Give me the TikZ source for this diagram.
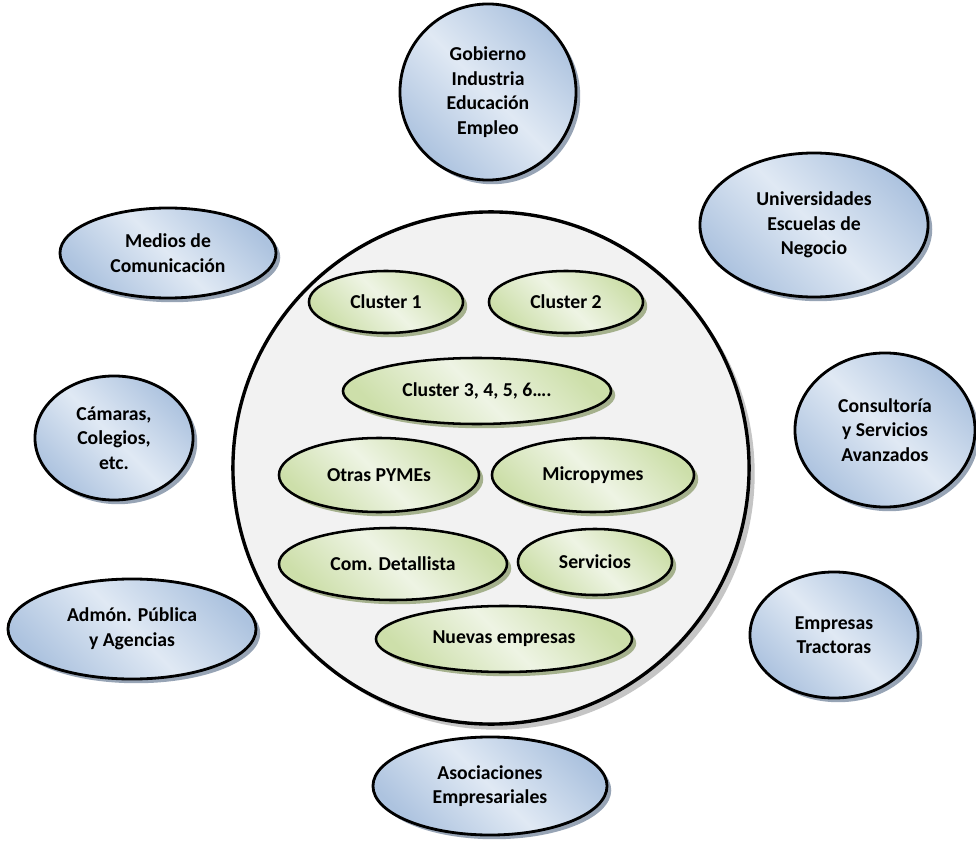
\documentclass[tikz,border=0pt]{standalone}
\usepackage{fontspec}
\setmainfont{Carlito}
\usetikzlibrary{shapes.geometric,shadows}
\definecolor{bluedark}{HTML}{ADC3DF}
\definecolor{bluelight}{HTML}{E0E9F4}
\definecolor{blueshadow}{HTML}{7D8DA3}
\definecolor{greendark}{HTML}{CDDFAA}
\definecolor{greenlight}{HTML}{EEF4E4}
\definecolor{greenshadow}{HTML}{9DAA83}
\definecolor{circlefill}{HTML}{F2F2F2}
\tikzset{esize/.style 2 args={minimum width=#1*0.05cm, minimum height=#2*0.05cm}}
\tikzstyle{actor} = [ellipse, draw, line width=2pt, inner sep=0pt, align=center,
  left color=bluedark, right color=bluedark, middle color=bluelight, shading angle=-45,
  drop shadow={shadow xshift=3pt, shadow yshift=-3pt, fill=blueshadow, opacity=0.8}]
\tikzstyle{group} = [ellipse, draw, line width=1.8pt, inner sep=0pt, align=center,
  left color=greendark, right color=greendark, middle color=greenlight, shading angle=-45,
  drop shadow={shadow xshift=3pt, shadow yshift=-3pt, fill=greenshadow, opacity=0.9}]
\tikzstyle{core} = [ellipse, draw, line width=2.4pt, fill=circlefill,
  drop shadow={shadow xshift=4pt, shadow yshift=-4pt, fill=black!25, opacity=0.9}]

\begin{document}
\begin{tikzpicture}[x=0.025cm, y=-0.025cm, font=\fontsize{14}{17.5}\selectfont\bfseries]

\useasboundingbox (0,0) rectangle (976,841);

% central circle
\node[core, esize={258}{256}] (core) at (491,468) {};

\node[group, esize={77}{31}] (cl1) at (386,302) {Cluster 1};
\node[group, esize={77}{31}] (cl2) at (566,302) {Cluster 2};
\node[group, esize={134}{33}] (cl3) at (477,391) {Cluster 3, 4, 5, 6….};
\node[group, esize={100}{37}] (otras) at (379,475) {Otras PYMEs};
\node[group, esize={101}{37}] (micro) at (593,475) {Micropymes};
\node[group, esize={114}{36}] (detall) at (393,564) {Com. Detallista};
\node[group, esize={77}{33}] (serv) at (595,562) {Servicios};
\node[group, esize={128}{33}] (nuevas) at (504,639) {Nuevas empresas};

% outer ring
\node[actor, esize={88}{88}] (gob) at (488,92) {Gobierno\\Industria\\Educación\\Empleo};
\node[actor, esize={114}{72}] (univ) at (814,225) {Universidades\\Escuelas de\\Negocio};
\node[actor, esize={108}{45}] (medios) at (168,253) {Medios de\\Comunicación};
\node[actor, esize={79}{62}] (camaras) at (114,438) {Cámaras,\\Colegios,\\etc.};
\node[actor, esize={90}{77}] (consult) at (885,430) {Consultoría\\y Servicios\\Avanzados};
\node[actor, esize={124}{50}] (admon) at (132,629) {Admón. Pública\\y Agencias};
\node[actor, esize={84}{63}] (tract) at (834,635) {Empresas\\Tractoras};
\node[actor, esize={117}{49}] (asoc) at (490,786) {Asociaciones\\Empresariales};

\end{tikzpicture}
\end{document}
